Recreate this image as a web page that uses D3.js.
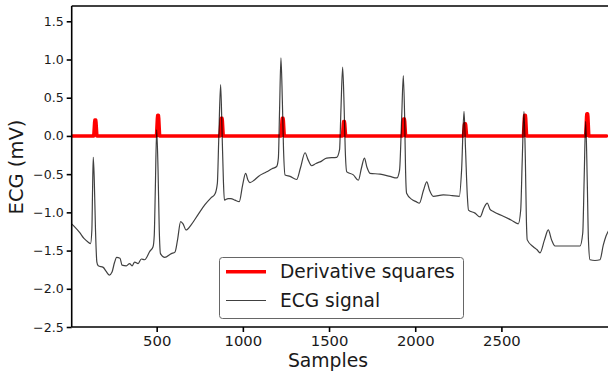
<!DOCTYPE html>
<html>
<head>
<meta charset="utf-8">
<script src="https://cdn.jsdelivr.net/npm/d3@7"></script>
<style>
  body { margin: 0; background: #fff; }
  svg { display: block; font-family: "DejaVu Sans", sans-serif; }
</style>
</head>
<body>
<svg id="chart" width="608" height="374"></svg>
<script>
// ECG trace: sample index and amplitude (mV)
const ecgSamples = [
  6, 20, 55, 78, 103, 116, 124, 128, 132, 138, 145, 153, 161, 190, 206, 225, 241, 255, 268, 287,
  299, 324, 343, 357, 372, 392, 411, 430, 460, 479, 486, 492, 500, 508, 515, 522, 547, 585, 606, 621,
  639, 653, 670, 701, 740, 780, 815, 838, 852, 860, 871, 879, 887, 893, 914, 931, 954, 979, 998, 1016,
  1030, 1041, 1065, 1090, 1138, 1169, 1196, 1206, 1213, 1221, 1229, 1236, 1245, 1274, 1312, 1334, 1361, 1378, 1399, 1424,
  1448, 1486, 1544, 1561, 1569, 1579, 1588, 1594, 1603, 1641, 1670, 1688, 1705, 1720, 1738, 1796, 1854, 1893, 1909, 1921,
  1931, 1939, 1944, 1950, 1980, 2005, 2024, 2048, 2067, 2083, 2105, 2163, 2214, 2256, 2269, 2283, 2292, 2302, 2309, 2347,
  2376, 2399, 2418, 2434, 2453, 2511, 2556, 2598, 2612, 2621, 2631, 2639, 2645, 2650, 2685, 2707, 2724, 2750, 2772, 2791,
  2811, 2879, 2956, 2972, 2980, 2989, 2998, 3005, 3014, 3043, 3072, 3091, 3107, 3124
];
const ecgValues = [
  -1.15, -1.18, -1.27, -1.34, -1.39, -1.41, -1.23, -0.71, -0.28, -0.58, -1.23, -1.65, -1.70, -1.72, -1.77, -1.82, -1.78, -1.66, -1.59, -1.60,
  -1.69, -1.70, -1.67, -1.70, -1.65, -1.67, -1.61, -1.62, -1.51, -1.45, -1.30, -0.71, 0.08, -0.45, -1.23, -1.54, -1.59, -1.54, -1.52, -1.36,
  -1.12, -1.15, -1.23, -1.16, -1.03, -0.90, -0.81, -0.76, -0.62, -0.05, 0.67, 0.08, -0.58, -0.84, -0.82, -0.82, -0.84, -0.86, -0.65, -0.49,
  -0.58, -0.61, -0.58, -0.53, -0.47, -0.43, -0.40, -0.29, 0.34, 1.02, 0.47, -0.18, -0.51, -0.53, -0.57, -0.42, -0.22, -0.31, -0.39, -0.36,
  -0.34, -0.29, -0.28, -0.18, 0.34, 0.90, 0.34, -0.18, -0.47, -0.51, -0.58, -0.42, -0.29, -0.41, -0.49, -0.50, -0.53, -0.55, -0.45, 0.21,
  0.79, 0.21, -0.45, -0.75, -0.83, -0.86, -0.88, -0.71, -0.60, -0.71, -0.79, -0.77, -0.78, -0.79, -0.45, 0.32, -0.18, -0.77, -0.97, -1.01,
  -1.06, -0.94, -0.88, -0.96, -0.99, -1.05, -1.10, -1.15, -0.97, -0.31, 0.32, -0.31, -1.10, -1.36, -1.45, -1.49, -1.53, -1.36, -1.23, -1.36,
  -1.44, -1.44, -1.44, -1.27, -0.58, 0.19, -0.58, -1.36, -1.62, -1.63, -1.62, -1.43, -1.31, -1.23
];

// Squared derivative: sample index and value
const derivSamples = [
  0, 135, 140, 142, 146, 148, 153,
  499, 504, 506, 510, 512, 517,
  868, 873, 875, 879, 881, 886,
  1222, 1227, 1229, 1233, 1235, 1240,
  1578, 1583, 1585, 1589, 1591, 1596,
  1926, 1931, 1933, 1937, 1939, 1944,
  2280, 2285, 2287, 2291, 2293, 2298,
  2628, 2633, 2635, 2639, 2641, 2646,
  2989, 2994, 2996, 3000, 3002, 3007,
  3110
];
const derivValues = [
  0, 0, 0.18, 0.21, 0.21, 0.18, 0,
  0, 0.23, 0.27, 0.27, 0.23, 0,
  0, 0.20, 0.23, 0.23, 0.20, 0,
  0, 0.20, 0.23, 0.23, 0.20, 0,
  0, 0.16, 0.19, 0.19, 0.16, 0,
  0, 0.19, 0.22, 0.22, 0.19, 0,
  0, 0.14, 0.16, 0.16, 0.14, 0,
  0, 0.23, 0.27, 0.27, 0.23, 0,
  0, 0.25, 0.29, 0.29, 0.25, 0,
  0
];

const xTicks = [500, 1000, 1500, 2000, 2500];
const yTicks = [-2.5, -2.0, -1.5, -1.0, -0.5, 0.0, 0.5, 1.0, 1.5];
const seriesNames = ["Derivative squares", "ECG signal"];
const xLabel = "Samples";
const yLabel = "ECG (mV)";

const xMin = 7, xMax = 3130;
const yMin = -2.5, yMax = 1.7;

const svg = d3.select("#chart");
const W = 608, H = 374;

const x = d3.scaleLinear().domain([0, 3000]).range([70.5, 70.5 + 3000 * 0.17236]);
const y = d3.scaleLinear().domain([yMin, yMax]).range([327, 6]);

const plotLeft = x(xMin), plotRight = x(xMax), plotTop = y(yMax), plotBottom = y(yMin);

svg.append("defs").append("clipPath").attr("id", "plotClip")
  .append("rect").attr("x", plotLeft).attr("y", plotTop)
  .attr("width", plotRight - plotLeft).attr("height", plotBottom - plotTop);

const plot = svg.append("g").attr("clip-path", "url(#plotClip)");

const ecg = ecgSamples.map((s, i) => [s, ecgValues[i]]);
const deriv = derivSamples.map((s, i) => [s, derivValues[i]]);

const line = d3.line().x(d => x(d[0])).y(d => y(d[1])).curve(d3.curveMonotoneX);
const lineStraight = d3.line().x(d => x(d[0])).y(d => y(d[1]));

plot.append("path").datum(deriv)
  .attr("d", lineStraight)
  .attr("fill", "none").attr("stroke", "#ff0000")
  .attr("stroke-width", 3.5).attr("stroke-linejoin", "round").attr("stroke-linecap", "round");

plot.append("path").datum(ecg)
  .attr("d", line)
  .attr("fill", "none").attr("stroke", "#000")
  .attr("stroke-opacity", 0.75)
  .attr("stroke-width", 1.2).attr("stroke-linejoin", "round");

// Axes
const fmtY = v => d3.format(".1f")(v).replace("-", "\u2212");

const yAxis = svg.append("g").attr("transform", `translate(${plotLeft},0)`)
  .call(d3.axisLeft(y).tickValues(yTicks).tickFormat(fmtY).tickSize(5).tickPadding(3));
const xAxis = svg.append("g").attr("transform", `translate(0,${plotBottom})`)
  .call(d3.axisBottom(x).tickValues(xTicks).tickFormat(d3.format("d")).tickSize(5).tickPadding(3));

[yAxis, xAxis].forEach(g => {
  g.select(".domain").remove();
  g.selectAll(".tick line").attr("stroke", "#000").attr("stroke-width", 1.6);
  g.selectAll(".tick text").attr("fill", "#1a1a1a").attr("font-family", "DejaVu Sans");
});
yAxis.selectAll(".tick text").attr("font-size", 12.6);
xAxis.selectAll(".tick text").attr("font-size", 14.8);

// Spines: left, top, bottom
const spine = svg.append("g").attr("stroke", "#000").attr("stroke-width", 1.6).attr("fill", "none");
spine.append("line").attr("x1", plotLeft).attr("x2", plotLeft).attr("y1", plotTop).attr("y2", plotBottom);
spine.append("line").attr("x1", plotLeft).attr("x2", W + 2).attr("y1", plotTop).attr("y2", plotTop);
spine.append("line").attr("x1", plotLeft).attr("x2", W + 2).attr("y1", plotBottom).attr("y2", plotBottom);

// Axis titles
svg.append("text").text(xLabel)
  .attr("x", 328).attr("y", 367)
  .attr("text-anchor", "middle").attr("font-size", 18.8).attr("fill", "#1a1a1a");
svg.append("text").text(yLabel)
  .attr("transform", `translate(23,167) rotate(-90)`)
  .attr("text-anchor", "middle").attr("font-size", 19.5).attr("fill", "#1a1a1a");

// Legend
const lg = svg.append("g");
lg.append("rect").attr("x", 219.5).attr("y", 257.5).attr("width", 244).attr("height", 61)
  .attr("rx", 3).attr("fill", "#fff").attr("fill-opacity", 0.85)
  .attr("stroke", "#666").attr("stroke-width", 1);
const legendItems = [
  { name: seriesNames[0], color: "#ff0000", width: 3.5, opacity: 1, cy: 271.7 },
  { name: seriesNames[1], color: "#000", width: 1.2, opacity: 0.75, cy: 300.5 }
];
legendItems.forEach(d => {
  lg.append("line").attr("x1", 226).attr("x2", 266).attr("y1", d.cy).attr("y2", d.cy)
    .attr("stroke", d.color).attr("stroke-width", d.width).attr("stroke-opacity", d.opacity);
  lg.append("text").text(d.name).attr("x", 280).attr("y", d.cy + 6.6)
    .attr("font-size", 18.6).attr("fill", "#1a1a1a");
});
</script>
</body>
</html>
